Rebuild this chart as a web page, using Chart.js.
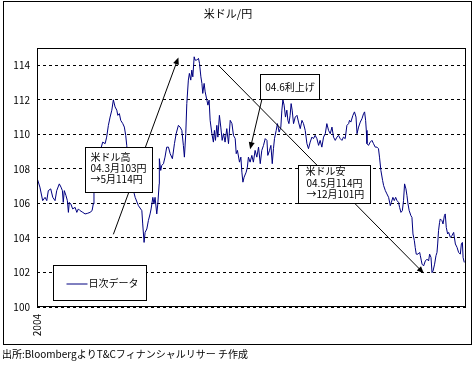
<!DOCTYPE html>
<html>
<head>
<meta charset="utf-8">
<script src="https://cdn.jsdelivr.net/npm/chart.js@4.4.1/dist/chart.umd.min.js"></script>
<style>
  html, body { margin: 0; padding: 0; background: #fff; }
  canvas { display: block; }
</style>
</head>
<body>
<canvas id="usdjpy" width="476" height="368"></canvas>
<script>
// 日次データ 2004年（営業日の位置, 米ドル/円）
const dayPos = [
  0.2, 1.7, 3.3, 4.7, 5.7, 6.6, 8.0, 9.2, 10.5, 11.5,
  13.0, 14.0, 14.8, 15.3, 15.9, 16.9, 17.7, 18.3, 18.8, 19.7,
  20.8, 22.2, 23.2, 24.1, 25.1, 26.7, 28.0, 29.3, 30.9, 32.1,
  32.8, 33.2, 33.8, 34.8, 35.9, 37.0, 38.3, 39.7, 40.6, 41.6,
  42.6, 43.6, 44.5, 45.5, 46.5, 47.1, 48.0, 48.8, 50.0, 50.9,
  51.7, 52.3, 53.4, 54.2, 56.2, 57.2, 59.1, 61.1, 61.6, 62.4,
  63.0, 64.0, 64.9, 65.9, 66.5, 67.5, 68.2, 68.8, 69.8, 70.4,
  71.2, 71.3, 72.1, 72.7, 73.7, 74.6, 75.6, 76.6, 77.6, 78.9,
  80.1, 81.1, 82.4, 83.4, 84.4, 85.3, 85.9, 86.7, 87.3, 88.2,
  88.8, 89.6, 90.2, 90.8, 91.6, 92.1, 93.1, 94.1, 94.7, 95.5,
  96.1, 96.6, 97.4, 98.0, 99.0, 99.6, 100.3, 100.9, 101.9, 102.8,
  103.4, 104.0, 104.8, 105.4, 106.3, 107.1, 107.9, 108.7, 109.6, 110.6,
  111.6, 112.6, 113.6, 114.5, 115.5, 116.1, 116.8, 118.0, 118.8, 119.4,
  120.0, 120.7, 121.9, 122.6, 123.2, 124.2, 125.2, 126.1, 127.1, 128.1,
  129.1, 130.1, 131.0, 132.0, 133.0, 134.0, 134.5, 135.5, 136.3, 137.1,
  137.8, 138.4, 139.4, 140.1, 141.1, 142.1, 142.7, 143.3, 144.0, 144.8,
  145.6, 146.2, 146.8, 147.5, 148.1, 148.7, 149.5, 150.5, 151.5, 152.4,
  153.4, 154.4, 155.3, 156.3, 157.3, 158.2, 159.2, 160.2, 161.1, 162.1,
  163.1, 164.1, 165.0, 166.0, 167.0, 168.0, 168.9, 169.9, 170.9, 171.9,
  172.8, 173.8, 174.8, 175.7, 176.7, 177.7, 178.6, 179.6, 180.6, 181.6,
  182.1, 182.9, 184.1, 185.0, 185.9, 186.5, 187.4, 188.4, 189.4, 190.3,
  190.9, 191.5, 191.9, 192.3, 193.2, 194.2, 195.2, 196.1, 197.1, 198.1,
  199.0, 199.6, 200.4, 201.4, 202.0, 203.0, 203.9, 204.9, 205.9, 206.5,
  207.4, 208.2, 209.0, 209.8, 210.7, 211.3, 212.1, 212.9, 213.6, 214.2,
  215.0, 215.6, 216.2, 216.9, 217.9, 218.5, 219.1, 219.9, 220.4, 221.0,
  222.0, 223.0, 223.4, 224.0, 224.4, 225.3, 226.3, 227.3, 228.2, 228.8,
  229.6, 230.2, 230.8, 231.7, 232.5, 233.1, 233.5, 234.0, 234.6, 235.0,
  236.0, 236.6, 237.4, 237.9, 238.5, 239.3, 239.9, 240.9, 241.8, 242.8,
  243.8, 244.8, 245.7, 246.7, 247.3, 247.9, 248.3, 249.0
];
const usdJpy = [
  107.42, 106.94, 106.16, 106.35, 106.16, 106.74, 106.84, 106.35, 106.16, 106.74,
  107.13, 106.94, 106.74, 106.06, 106.74, 106.45, 106.16, 105.48, 106.06, 105.97,
  105.68, 105.77, 105.48, 105.68, 105.58, 105.48, 105.39, 105.42, 105.48, 105.58,
  105.97, 106.74, 107.52, 107.91, 108.5, 109.1, 109.55, 109.46, 109.84, 110.52,
  111.0, 111.4, 112.0, 111.59, 111.4, 111.1, 111.2, 110.81, 110.62, 110.42,
  109.94, 109.36, 108.0, 107.0, 106.74, 106.35, 105.87, 105.58, 104.81, 103.74,
  104.32, 104.52, 105.0, 105.39, 105.68, 106.35, 105.97, 106.35, 105.39, 105.97,
  107.13, 108.59, 107.91, 108.2, 108.3, 108.68, 109.26, 109.26, 108.88, 108.59,
  109.46, 110.04, 110.52, 110.42, 110.23, 109.36, 108.68, 110.04, 111.78, 113.14,
  113.53, 113.14, 113.72, 113.33, 114.49, 114.3, 114.3, 114.4, 114.11, 113.33,
  112.95, 112.37, 112.95, 112.46, 111.98, 111.69, 111.98, 110.81, 110.04, 109.55,
  110.23, 109.65, 110.52, 109.84, 111.1, 110.42, 109.65, 110.04, 109.55, 110.33,
  109.46, 110.81, 110.62, 109.94, 109.75, 108.88, 109.07, 108.39, 108.68, 107.81,
  107.23, 107.52, 107.81, 108.1, 108.68, 108.39, 108.78, 108.39, 109.07, 108.68,
  109.26, 108.3, 109.07, 109.36, 109.75, 109.65, 108.78, 109.07, 109.36, 108.3,
  109.17, 109.75, 110.23, 110.62, 110.13, 110.42, 111.4, 112.0, 111.69, 111.0,
  111.4, 110.81, 110.62, 111.1, 111.78, 111.4, 110.62, 111.0, 111.1, 110.71,
  110.33, 110.81, 110.62, 110.23, 109.46, 109.17, 109.55, 109.84, 109.75, 109.94,
  109.75, 109.36, 109.65, 109.26, 109.84, 110.04, 110.62, 110.23, 110.04, 110.42,
  109.84, 109.65, 109.84, 109.94, 109.75, 109.65, 109.84, 109.75, 110.52, 110.62,
  110.81, 110.71, 111.1, 111.3, 111.0, 110.04, 110.42, 110.71, 110.91, 111.2,
  111.3, 110.81, 110.23, 109.46, 109.36, 109.55, 109.65, 109.46, 109.26, 109.26,
  109.17, 108.68, 107.91, 107.33, 107.03, 106.74, 106.55, 106.35, 105.87, 106.06,
  106.35, 106.16, 106.35, 106.16, 106.06, 105.77, 105.48, 105.58, 106.16, 107.13,
  106.84, 106.45, 105.97, 105.58, 105.29, 105.19, 104.23, 103.84, 103.45, 103.06,
  103.06, 103.16, 102.97, 102.67, 102.48, 102.38, 102.67, 102.77, 102.67, 103.06,
  102.87, 101.99, 102.09, 102.48, 102.97, 103.16, 103.65, 104.42, 104.9, 105.1,
  105.0, 104.81, 105.29, 105.39, 104.61, 104.23, 104.32, 104.03, 104.13, 104.32,
  103.65, 103.45, 103.16, 103.06, 103.65, 103.74, 102.87, 102.58
];
const yTicks = [100, 102, 104, 106, 108, 110, 112, 114];
const xTickLabel = '2004';
const seriesName = '日次データ';
const titleText = '米ドル/円';
const sourceText = '出所:BloombergよりT&Cフィナンシャルリサー チ作成';

// 注釈（位置は 営業日, 円）
const noteTexts = [
  ['米ドル高', '04.3月103円', '→5月114円'],
  ['04.6利上げ'],
  ['米ドル安', '04.5月114円', '→12月101円']
];
const noteBoxes = [
  [28.0, 109.27, 66.9, 106.66],
  [130.1, 113.52, 164.6, 112.02],
  [152.0, 108.21, 193.8, 106.03]
];
const noteArrows = [
  [44.5, 104.21, 82.4, 114.45],
  [131.0, 112.0, 124.2, 109.14],
  [105.7, 114.0, 225.4, 101.95]
];

const jpFont = '"Noto Sans CJK JP", "Noto Sans", sans-serif';
const lineColor = '#000080';

function drawArrow(ctx, x1, y1, x2, y2) {
  const ang = Math.atan2(y2 - y1, x2 - x1);
  const len = 7, half = 3;
  const c = Math.cos(ang), s = Math.sin(ang);
  ctx.beginPath();
  ctx.moveTo(x1, y1);
  ctx.lineTo(x2 - c * len * 0.8, y2 - s * len * 0.8);
  ctx.stroke();
  ctx.beginPath();
  ctx.moveTo(x2, y2);
  ctx.lineTo(x2 - len * c + half * s, y2 - len * s - half * c);
  ctx.lineTo(x2 - len * c - half * s, y2 - len * s + half * c);
  ctx.closePath();
  ctx.fill();
}

const decor = {
  id: 'decor',
  beforeDraw(chart) {
    const ctx = chart.ctx;
    ctx.save();
    ctx.fillStyle = '#fff';
    ctx.fillRect(0, 0, chart.width, chart.height);
    ctx.restore();
  },
  afterDraw(chart) {
    const { ctx, chartArea: a } = chart;
    const sx = chart.scales.x, sy = chart.scales.y;
    const px = v => sx.getPixelForValue(v);
    const py = v => sy.getPixelForValue(v);
    const snap = v => Math.round(v) + 0.5;

    ctx.save();
    ctx.strokeStyle = '#000';
    ctx.fillStyle = '#000';
    ctx.lineWidth = 1;

    // 枠（プロットエリア）
    ctx.strokeRect(snap(a.left), snap(a.top), Math.round(a.right - a.left) - 1, Math.round(a.bottom - a.top) - 1);

    // 矢印
    noteArrows.forEach(r => drawArrow(ctx, px(r[0]), py(r[1]), px(r[2]), py(r[3])));

    // 注釈ボックス
    ctx.font = '10px ' + jpFont;
    ctx.textBaseline = 'middle';
    noteBoxes.forEach((b, i) => {
      const l = snap(px(b[0])), t = snap(py(b[1]));
      const r = snap(px(b[2])), btm = snap(py(b[3]));
      ctx.fillStyle = '#fff';
      ctx.fillRect(l, t, r - l, btm - t);
      ctx.strokeRect(l, t, r - l, btm - t);
      ctx.fillStyle = '#000';
      const lines = noteTexts[i];
      if (lines.length === 1) {
        ctx.textAlign = 'center';
        ctx.fillText(lines[0], (l + r) / 2, (t + btm) / 2);
      } else {
        ctx.textAlign = 'left';
        const padX = i === 0 ? 5 : 7;
        const padTop = i === 0 ? 10 : 6;
        const lineH = i === 0 ? 11 : 11.3;
        lines.forEach((txt, k) => {
          ctx.fillText(txt, l + padX + (k > 0 && i === 2 ? 1 : 0), t + padTop + k * lineH);
        });
      }
    });

    // 凡例
    const lgL = a.left + 16.5, lgT = a.bottom - 41.5;
    ctx.fillStyle = '#fff';
    ctx.fillRect(lgL, lgT, 93, 35);
    ctx.strokeRect(lgL, lgT, 93, 35);
    ctx.strokeStyle = lineColor;
    ctx.beginPath();
    ctx.moveTo(lgL + 13, lgT + 18.5);
    ctx.lineTo(lgL + 34, lgT + 18.5);
    ctx.stroke();
    ctx.fillStyle = '#000';
    ctx.textAlign = 'left';
    ctx.fillText(seriesName, lgL + 35, lgT + 18);

    // タイトル・出所
    ctx.font = '11px ' + jpFont;
    ctx.textAlign = 'center';
    ctx.fillText(titleText, 228, 14);
    ctx.font = '10px ' + jpFont;
    ctx.textAlign = 'left';
    ctx.fillText(sourceText, 2, 354);

    // 外枠
    ctx.strokeStyle = '#000';
    ctx.strokeRect(3.5, 1.5, 468, 343);
    ctx.restore();
  }
};

new Chart(document.getElementById('usdjpy'), {
  type: 'line',
  data: {
    datasets: [{
      label: seriesName,
      data: dayPos.map((d, i) => ({ x: d, y: usdJpy[i] })),
      borderColor: lineColor,
      borderWidth: 1,
      pointRadius: 0,
      tension: 0,
      fill: false
    }]
  },
  options: {
    responsive: false,
    animation: false,
    devicePixelRatio: 1,
    layout: { padding: { top: 48, right: 10, left: 0, bottom: 0 } },
    plugins: {
      legend: { display: false },
      title: { display: false },
      tooltip: { enabled: false }
    },
    scales: {
      x: {
        type: 'linear',
        min: 0,
        max: 250,
        grid: { display: false, drawTicks: false },
        border: { display: false },
        afterBuildTicks: axis => { axis.ticks = [{ value: 0 }]; },
        afterFit: axis => { axis.height = 61; },
        ticks: {
          callback: () => xTickLabel,
          minRotation: 90,
          maxRotation: 90,
          padding: 7,
          color: '#000',
          font: { family: jpFont, size: 10 }
        }
      },
      y: {
        min: 100,
        max: 115,
        grid: { color: '#000', drawTicks: false, lineWidth: 1 },
        border: { display: false, dash: [3, 3] },
        afterBuildTicks: axis => { axis.ticks = yTicks.map(v => ({ value: v })); },
        afterFit: axis => { axis.width = 37; },
        ticks: {
          padding: 7,
          color: '#000',
          font: { family: jpFont, size: 10 }
        }
      }
    }
  },
  plugins: [decor]
});
</script>
</body>
</html>
